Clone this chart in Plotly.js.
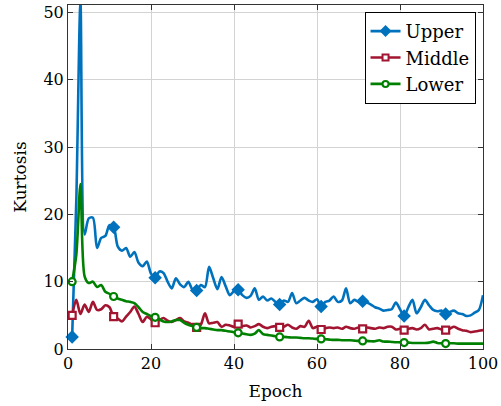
<!DOCTYPE html>
<html>
<head>
<meta charset="utf-8">
<script src="https://cdn.plot.ly/plotly-3.0.1.min.js"></script>
<style>html,body{margin:0;padding:0;background:#fff;}#chart{width:501px;height:406px;}</style>
</head>
<body>
<div id="chart"></div>
<script>
const epochs = Array.from({length: 100}, (_, i) => i + 1);
const upper = [1.8,22,51.5,17,19.4,19.5,15,16.5,16.8,18.4,
  18.1,15.2,14.6,15.0,13.7,14.4,12.8,12.3,13.0,11.2,
  10.6,11.5,11.3,10.0,9.0,10.5,9.6,9.2,10.0,8.8,
  8.7,9.5,9.2,12.2,10.5,8.9,10.7,9.3,8.0,8.6,
  8.8,8.0,7.6,7.9,9.0,7.3,7.8,7.2,7.5,7.0,
  6.6,7.2,7.0,8.3,6.8,7.2,7.6,7.2,7.0,7.4,
  6.3,7.0,7.2,7.8,7.0,7.2,9.0,6.8,7.3,7.0,
  7.1,6.9,6.6,6.2,6.0,5.7,5.8,5.9,6.9,5.9,
  4.9,6.2,7.3,5.3,6.2,7.3,6.5,5.8,5.6,5.7,
  5.2,5.5,5.7,5.3,5.2,4.9,5.0,5.4,5.8,8.0];
const middle = [5.0,7.3,5.2,6.6,5.5,7.0,5.8,5.9,6.5,6.2,
  4.8,4.5,4.1,4.8,5.5,6.3,5.2,4.0,4.8,4.4,
  3.9,4.3,4.6,4.2,4.0,4.3,4.6,4.1,3.9,3.6,
  3.2,3.6,5.3,3.8,3.9,4.0,3.3,3.6,3.5,3.3,
  3.7,3.4,3.5,3.2,3.4,3.7,3.3,3.1,3.3,3.4,
  3.2,3.3,3.6,3.2,3.0,3.4,3.3,4.2,3.1,3.3,
  2.9,3.1,3.2,3.1,3.2,3.0,3.3,3.1,3.0,3.2,
  3.0,3.2,3.1,3.0,3.2,3.1,3.3,3.3,2.9,3.0,
  2.8,3.0,3.1,2.9,3.1,3.6,2.9,3.0,3.1,2.9,
  2.8,3.0,3.3,3.0,2.8,2.7,2.5,2.6,2.7,2.8];
const lower = [10.0,14.0,24.5,10.8,9.8,10.0,9.2,9.5,8.5,8.2,
  7.8,7.5,7.3,7.1,7.0,6.8,6.2,5.5,5.2,4.9,
  4.7,4.4,4.1,4.0,4.1,4.3,4.3,3.9,3.6,3.4,
  3.2,3.1,3.1,3.0,2.9,2.8,2.8,2.7,2.6,2.5,
  2.4,2.3,2.2,2.1,2.3,2.8,2.2,2.1,2.0,1.9,
  1.8,1.8,1.75,1.7,1.7,1.65,1.6,1.6,1.55,1.5,
  1.5,1.45,1.4,1.35,1.35,1.3,1.3,1.3,1.25,1.2,
  1.2,1.2,1.15,1.15,1.3,1.1,1.1,1.05,1.0,1.0,
  0.95,0.95,0.9,0.9,0.9,0.9,0.95,1.1,0.9,0.85,
  0.8,0.85,0.85,0.8,0.8,0.8,0.8,0.8,0.8,0.8];
const seriesNames = ["Upper", "Middle", "Lower"];
const xTicks = [0, 20, 40, 60, 80, 100];
const yTicks = [0, 10, 20, 30, 40, 50];

const colors = ["#0072BD", "#A2142F", "#008000"];
const symbols = ["diamond", "square", "circle"];
const fills = ["#0072BD", "#ffffff", "#ffffff"];
const sizes = [8, 7, 7];
const allY = [upper, middle, lower];

const traces = [];
allY.forEach((ys, k) => {
  traces.push({x: epochs, y: ys, mode: "lines", type: "scatter", showlegend: false,
    line: {color: colors[k], width: 2.6, shape: "spline", smoothing: 0.8}, hoverinfo: "skip"});
  const mx = epochs.filter((e, i) => i % 10 === 0);
  const my = ys.filter((v, i) => i % 10 === 0);
  traces.push({x: mx, y: my, mode: "markers", type: "scatter", showlegend: false, cliponaxis: false,
    marker: {symbol: symbols[k], size: sizes[k], color: fills[k], line: {color: colors[k], width: 2.2}}});
});
allY.forEach((ys, k) => {
  traces.push({x: [null], y: [null], mode: "lines+markers", type: "scatter", name: seriesNames[k],
    line: {color: colors[k], width: 2.6},
    marker: {symbol: symbols[k], size: sizes[k] - 1, color: fills[k], line: {color: colors[k], width: 2}}});
});

const fam = "DejaVu Serif";
const font = {family: fam, size: 16, color: "#000"};
const axisCommon = {
  showline: true, linecolor: "#333", linewidth: 1, mirror: "ticks",
  ticks: "inside", ticklen: 5, tickcolor: "#333", tickwidth: 1,
  showgrid: true, gridcolor: "#d3d3d3", gridwidth: 1, zeroline: false,
  tickfont: font
};
const layout = {
  width: 501, height: 406,
  margin: {l: 68, r: 18, t: 5, b: 57, pad: 0},
  paper_bgcolor: "#fff", plot_bgcolor: "#fff",
  font: font,
  xaxis: Object.assign({}, axisCommon, {range: [0, 100], tickvals: xTicks, ticktext: xTicks.map(String),
    title: {text: "Epoch", font: {family: fam, size: 17, color: "#000"}, standoff: 12}}),
  yaxis: Object.assign({}, axisCommon, {range: [0, 51.1], tickvals: yTicks, ticktext: yTicks.map(String),
    title: {text: "Kurtosis", font: {family: fam, size: 17, color: "#000"}, standoff: 12}}),
  legend: {x: 0.982, xanchor: "right", y: 0.98, yanchor: "top", bgcolor: "#fff",
    bordercolor: "#000", borderwidth: 1, font: {family: fam, size: 18, color: "#000"},
    tracegroupgap: 0}
};
Plotly.newPlot("chart", traces, layout, {displayModeBar: false, staticPlot: true});
</script>
</body>
</html>
